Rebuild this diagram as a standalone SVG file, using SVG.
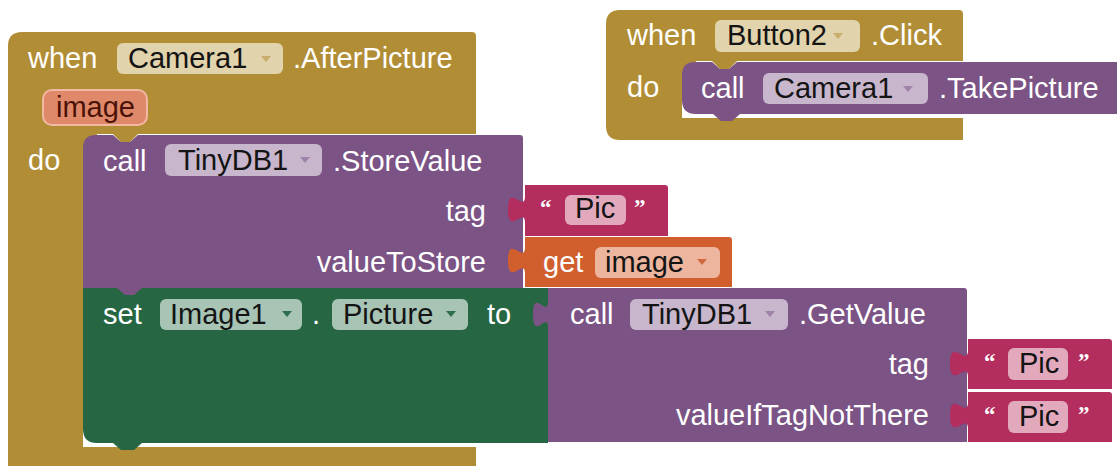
<svg xmlns="http://www.w3.org/2000/svg" width="1117" height="466" viewBox="0 0 1117 466">
<style>
text{font-family:"Liberation Sans",Arial,Helvetica,sans-serif;font-size:29px}
.l{fill:#ffffff}
.f{fill:#141414}
.r{text-anchor:end}
.q{font-size:23px;font-weight:bold;fill:#ffffff;font-family:"Liberation Serif","Times New Roman",serif}
.gold{fill:#b18e35}
.purple{fill:#7b5385}
.green{fill:#266643}
.pink{fill:#b32d5e}
.orange{fill:#d05f2d}
.fgold{fill:#e1d3ab}
.fpurple{fill:#c8b6cd}
.fgreen{fill:#a8c4b5}
.fpink{fill:#e2a9bd}
.forange{fill:#eeb59e}
.agold{fill:#c7ae6c}
.apurple{fill:#9f83a8}
.agreen{fill:#2f6e4c}
.aorange{fill:#d06a3e}
</style>
<defs>
<path id="dd" d="M0,0 H10 L5,6 Z"/>
</defs>

<g id="event-afterpicture">
<path class="gold" d="M8,46 Q8,32 22,32 H472 Q476,32 476,36 V134 H138 L130,142 H121 L113,134 H83 V447 H476 V466 H8 Z M83,133 H97 V149 H83 Z"/>
<text class="l" x="28" y="68">when</text>
<rect class="fgold" x="117" y="43" width="166" height="31" rx="6"/>
<text class="f" x="128" y="68">Camera1</text>
<use href="#dd" x="261" y="56" class="agold"/>
<text class="l" x="293" y="68">.AfterPicture</text>
<rect x="43" y="90" width="104" height="35" rx="9" fill="#e0896a" stroke="#f1b8a4" stroke-width="2"/>
<text x="56" y="117" fill="#4a1208">image</text>
<text class="l" x="28" y="170">do</text>
</g>

<g id="set-picture">
<path class="green" d="M83,288 H548 V443 H142 L134,450 H121 L113,443 H97 Q83,443 83,429 Z"/>
<text class="l" x="103" y="324">set</text>
<rect class="fgreen" x="160" y="299" width="142" height="31" rx="6"/>
<text class="f" x="170" y="324">Image1</text>
<use href="#dd" x="282" y="311" class="agreen"/>
<text class="l" x="312" y="324">.</text>
<rect class="fgreen" x="332" y="299" width="136" height="31" rx="6"/>
<text class="f" x="343" y="324">Picture</text>
<use href="#dd" x="446" y="311" class="agreen"/>
<text class="l" x="487" y="324">to</text>
</g>

<g id="call-storevalue">
<path class="purple" d="M83,148 Q83,135 96,135 H113 L121,142 H130 L138,135 H520 Q523,135 523,138 V288 H142 L134,295 H125 L117,288 H83 Z"/>
<text class="l" x="103" y="171">call</text>
<rect class="fpurple" x="165" y="144" width="157" height="32" rx="6"/>
<text class="f" x="178" y="170">TinyDB1</text>
<use href="#dd" x="300" y="157" class="apurple"/>
<text class="l" x="333" y="171">.StoreValue</text>
<text class="l r" x="486" y="221">tag</text>
<text class="l r" x="486" y="272">valueToStore</text>
</g>

<g id="text-pic-1">
<path class="pink" d="M525,185 V196 c0,18 -17,-14 -17,13.5 s17,-4.5 17,13.5 V236 H668 V188 Q668,185 665,185 Z"/>
<text class="q" x="540" y="215">“</text>
<rect class="fpink" x="565" y="195" width="61" height="30" rx="6"/>
<text class="f" x="575" y="218">Pic</text>
<text class="q" x="634" y="215">”</text>
</g>

<g id="get-image">
<path class="orange" d="M525,237 V247 c0,18 -17,-14 -17,13.5 s17,-4.5 17,13.5 V287 H732 V240 Q732,237 729,237 Z"/>
<text class="l" x="543" y="272">get</text>
<rect class="forange" x="595" y="247" width="125" height="31" rx="6"/>
<text class="f" x="605" y="272">image</text>
<use href="#dd" x="697" y="259" class="aorange"/>
</g>

<g id="call-getvalue">
<path class="purple" d="M548,288 V301 c0,18 -15,-14 -15,13.5 s15,-4.5 15,13.5 V442 H967 V291 Q967,288 964,288 Z"/>
<text class="l" x="570" y="324">call</text>
<rect class="fpurple" x="630" y="299" width="158" height="31" rx="6"/>
<text class="f" x="642" y="324">TinyDB1</text>
<use href="#dd" x="765" y="311" class="apurple"/>
<text class="l" x="799" y="324">.GetValue</text>
<text class="l r" x="929" y="374">tag</text>
<text class="l r" x="929" y="425">valueIfTagNotThere</text>
</g>

<g id="text-pic-2">
<path class="pink" d="M968,339 V350 c0,18 -18,-14 -18,13.5 s18,-4.5 18,13.5 V389 H1112 V342 Q1112,339 1109,339 Z"/>
<text class="q" x="984" y="369">“</text>
<rect class="fpink" x="1008" y="348" width="60" height="32" rx="6"/>
<text class="f" x="1019" y="373">Pic</text>
<text class="q" x="1078" y="369">”</text>
</g>

<g id="text-pic-3">
<path class="pink" d="M968,392 V402 c0,18 -18,-14 -18,13.5 s18,-4.5 18,13.5 V442 H1112 V395 Q1112,392 1109,392 Z"/>
<text class="q" x="984" y="422">“</text>
<rect class="fpink" x="1008" y="401" width="60" height="32" rx="6"/>
<text class="f" x="1019" y="426">Pic</text>
<text class="q" x="1078" y="422">”</text>
</g>

<g id="event-click">
<path class="gold" d="M606,24 Q606,10 620,10 H959 Q963,10 963,14 V61 H737 L729,69 H720 L712,61 H682 V118 H963 V140 H620 Q606,140 606,126 Z M682,60 H696 V76 H682 Z"/>
<text class="l" x="627" y="45">when</text>
<rect class="fgold" x="715" y="20" width="145" height="32" rx="6"/>
<text class="f" x="727" y="45">Button2</text>
<use href="#dd" x="833" y="33" class="agold"/>
<text class="l" x="871" y="45">.Click</text>
<text class="l" x="627" y="97">do</text>
</g>

<g id="call-takepicture">
<path class="purple" d="M682,75 Q682,62 695,62 H712 L720,69 H729 L737,62 H1117 V114 H740 L732,121 H721 L713,114 H696 Q682,114 682,100 Z"/>
<text class="l" x="701" y="98">call</text>
<rect class="fpurple" x="763" y="73" width="165" height="31" rx="6"/>
<text class="f" x="774" y="98">Camera1</text>
<use href="#dd" x="903" y="86" class="apurple"/>
<text class="l" x="939" y="98">.TakePicture</text>
</g>

<g id="connectors"></g>
</svg>
